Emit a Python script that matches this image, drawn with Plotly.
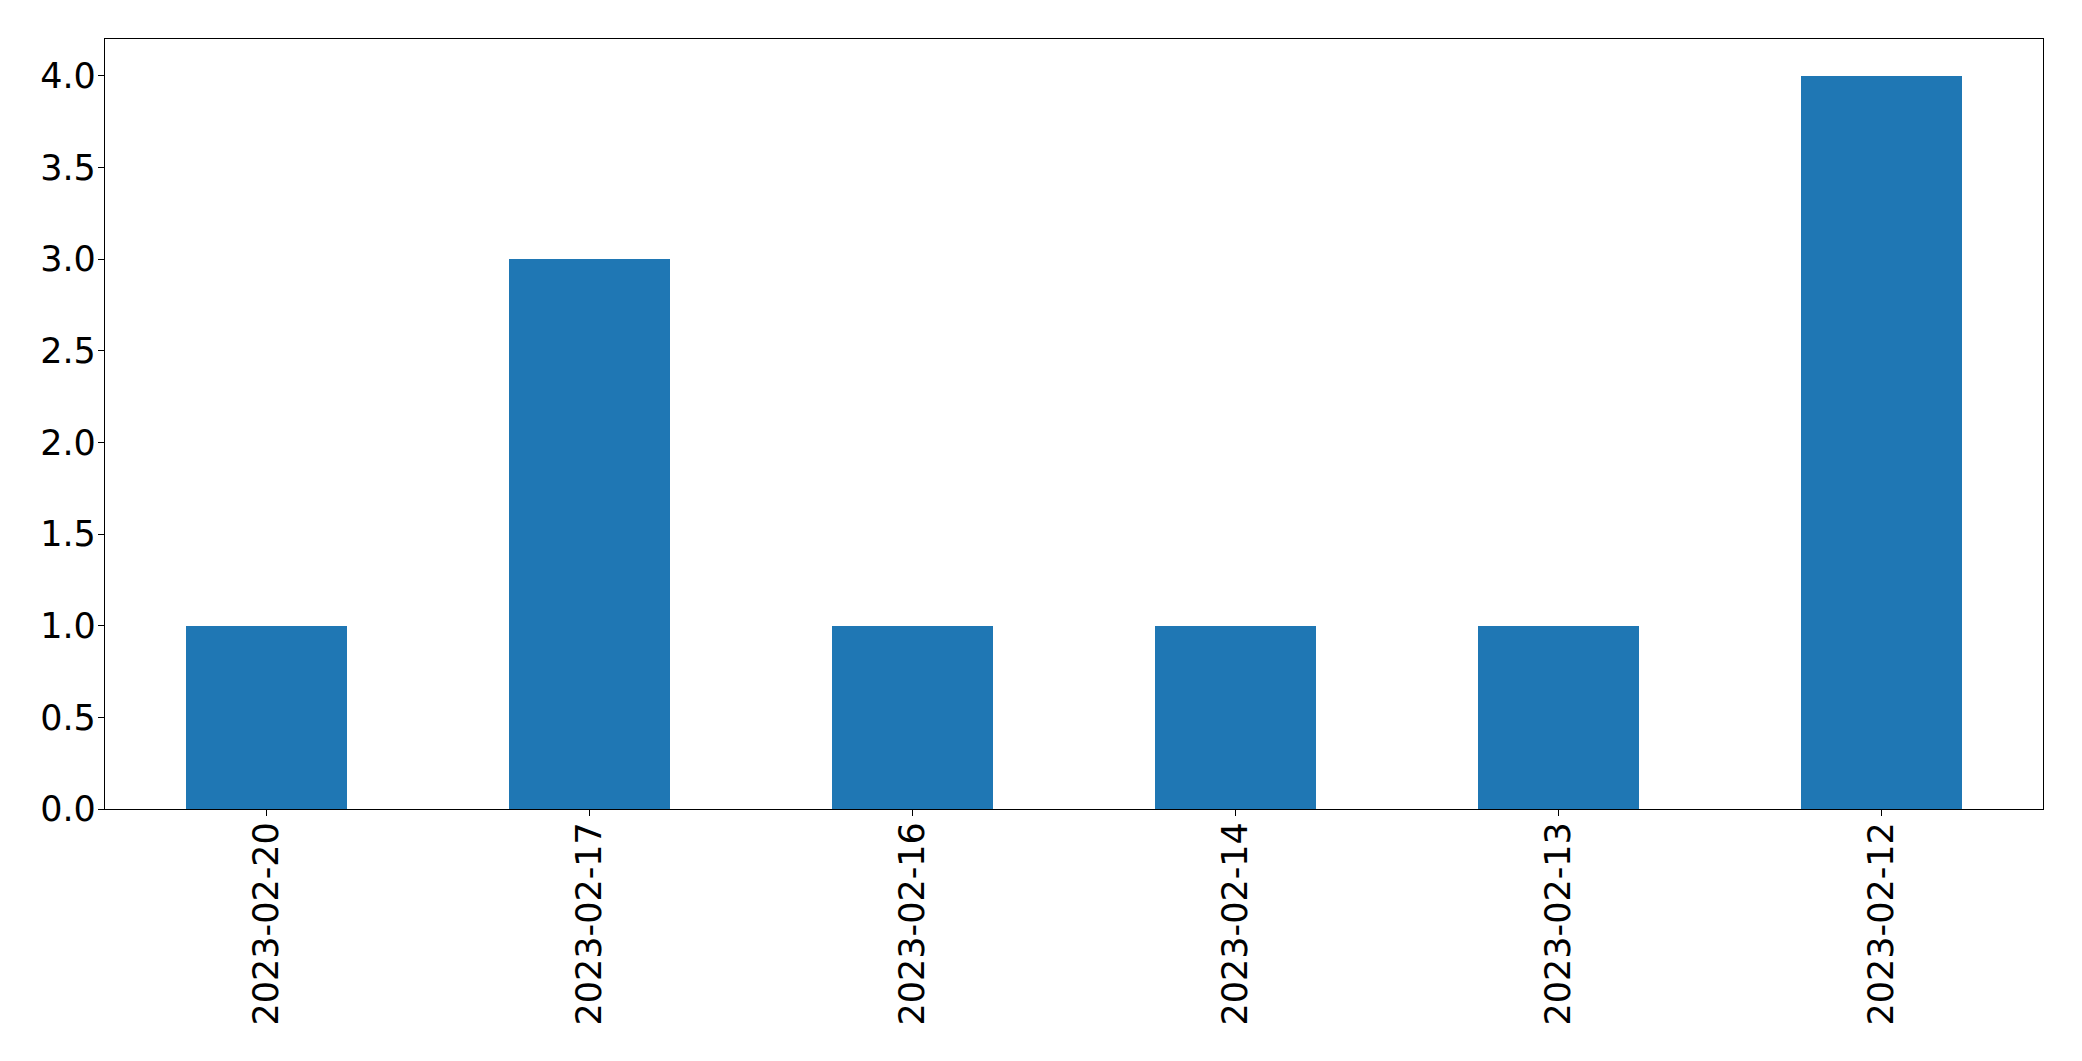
import plotly.graph_objects as go

dates = ["2023-02-20", "2023-02-17", "2023-02-16", "2023-02-14", "2023-02-13", "2023-02-12"]
counts = [1, 3, 1, 1, 1, 4]
y_ticks = [0.0, 0.5, 1.0, 1.5, 2.0, 2.5, 3.0, 3.5, 4.0]
y_tick_labels = ["0.0", "0.5", "1.0", "1.5", "2.0", "2.5", "3.0", "3.5", "4.0"]

fig = go.Figure(go.Bar(x=dates, y=counts, width=0.5, marker=dict(color="#1f77b4", line=dict(width=0))))

font = dict(family="DejaVu Sans", size=35, color="black")
fig.update_layout(
    width=2074, height=1053,
    margin=dict(l=97, r=39, t=31, b=252, pad=0, autoexpand=False),
    plot_bgcolor="white", paper_bgcolor="white",
    showlegend=False, bargap=0,
    font=font,
)
fig.update_xaxes(
    type="category", range=[-0.5, 5.5], automargin=False,
    showline=True, mirror=True, linecolor="black", linewidth=1.3,
    ticks="outside", ticklen=6, tickwidth=1.3, tickcolor="black",
    tickangle=-90, showgrid=False, zeroline=False, tickfont=font,
    ticklabelstandoff=-8,
)
fig.update_yaxes(
    range=[0, 4.2], tickvals=y_ticks, ticktext=y_tick_labels, automargin=False,
    showline=True, mirror=True, linecolor="black", linewidth=1.3,
    ticks="outside", ticklen=6, tickwidth=1.3, tickcolor="black",
    showgrid=False, zeroline=False, tickfont=font,
    ticklabelstandoff=-5,
)
fig.write_html("out.html")
